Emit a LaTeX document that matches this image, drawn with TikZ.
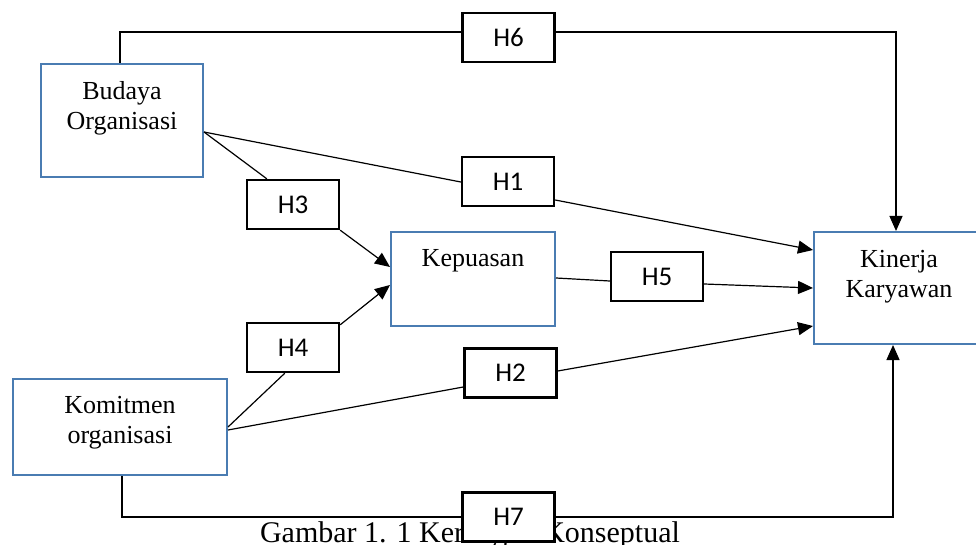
\documentclass[tikz,border=0pt]{standalone}
\usepackage{fontspec}
\setmainfont{Liberation Serif}
\newfontfamily\hfont{Carlito}
\usetikzlibrary{arrows.meta,calc}
\definecolor{boxblue}{RGB}{74,124,178}
\tikzset{
  varbox/.style={draw=boxblue, line width=2pt, fill=white, rectangle, inner sep=0pt},
  vartext/.style={font=\fontsize{26}{30}\selectfont, align=center, inner sep=0pt},
  hbox/.style={draw=black, line width=2.4pt, fill=white, rectangle, inner sep=0pt,
    minimum width=92pt, minimum height=49pt, font=\hfont\fontsize{27}{30}\selectfont},
  conn/.style={draw=black, line width=1.2pt},
  arr/.style={-{Triangle[length=15pt,width=13pt]}}
}
\begin{document}
\begin{tikzpicture}[x=1pt,y=-1pt]
\useasboundingbox (0,0) rectangle (976,545);
% variable boxes
\node[varbox, minimum width=162pt, minimum height=113pt] (bud) at (122,120.5) {};
\node[vartext] (budt) at (122,108) {Budaya\\Organisasi};
\node[varbox, minimum width=214pt, minimum height=96pt] (kom) at (120,427) {};
\node[vartext] (komt) at (120,423) {Komitmen\\organisasi};
\node[varbox, minimum width=164pt, minimum height=94pt] (kep) at (473,279) {};
\node[vartext] (kept) at (473,261) {Kepuasan};
\node[varbox, minimum width=170pt, minimum height=112pt] (kin) at (899,288) {};
\node[vartext] (kint) at (899,277) {Kinerja\\Karyawan};
% caption
\node[font=\fontsize{30}{34}\selectfont, anchor=base, inner sep=0pt] (cap) at (470,542) {Gambar 1. 1 Kerangka Konseptual};
% hypothesis boxes
\node[hbox] (h6) at (508.5,37.5) {H6};
\node[hbox] (h1) at (508,181.5) {H1};
\node[hbox] (h3) at (293,204.5) {H3};
\node[hbox] (h4) at (293,347.5) {H4};
\node[hbox] (h2) at (510.5,373) {H2};
\node[hbox] (h5) at (657,276.5) {H5};
\node[hbox] (h7) at (508.5,517) {H7};
% connectors
\draw[conn] ($(bud.north)+(-2,0)$) |- ($(h6.west)+(0,-5.5)$);
\draw[conn,arr] ($(h6.east)+(0,-5.5)$) -| ($(kin.north)+(-3,0)$);
\draw[conn] ($(bud.east)+(0,11.5)$) -- ($(h1.west)+(0,0.5)$);
\draw[conn,arr] ($(h1.east)+(0,18.5)$) -- ($(kin.west)+(0,-38)$);
\draw[conn] ($(bud.east)+(0,11.5)$) -- ($(h3.north west)+(21,0)$);
\draw[conn,arr] (h3.south east) -- ($(kep.west)+(0,-12)$);
\draw[conn] (kom.east) -- ($(h4.south west)+(39,0)$);
\draw[conn,arr] ($(h4.north east)+(0,3)$) -- ($(kep.west)+(0,6)$);
\draw[conn] ($(kom.east)+(0,3)$) -- ($(h2.west)+(0,14)$);
\draw[conn,arr] ($(h2.east)+(0,-2)$) -- ($(kin.west)+(0,38)$);
\draw[conn] ($(kep.east)+(0,-1)$) -- ($(h5.west)+(0,4.5)$);
\draw[conn,arr] ($(h5.east)+(0,7.5)$) -- (kin.west);
\draw[conn] ($(kom.south)+(2,0)$) |- (h7.west);
\draw[conn,arr] (h7.east) -| ($(kin.south)+(-6,0)$);
\end{tikzpicture}
\end{document}
